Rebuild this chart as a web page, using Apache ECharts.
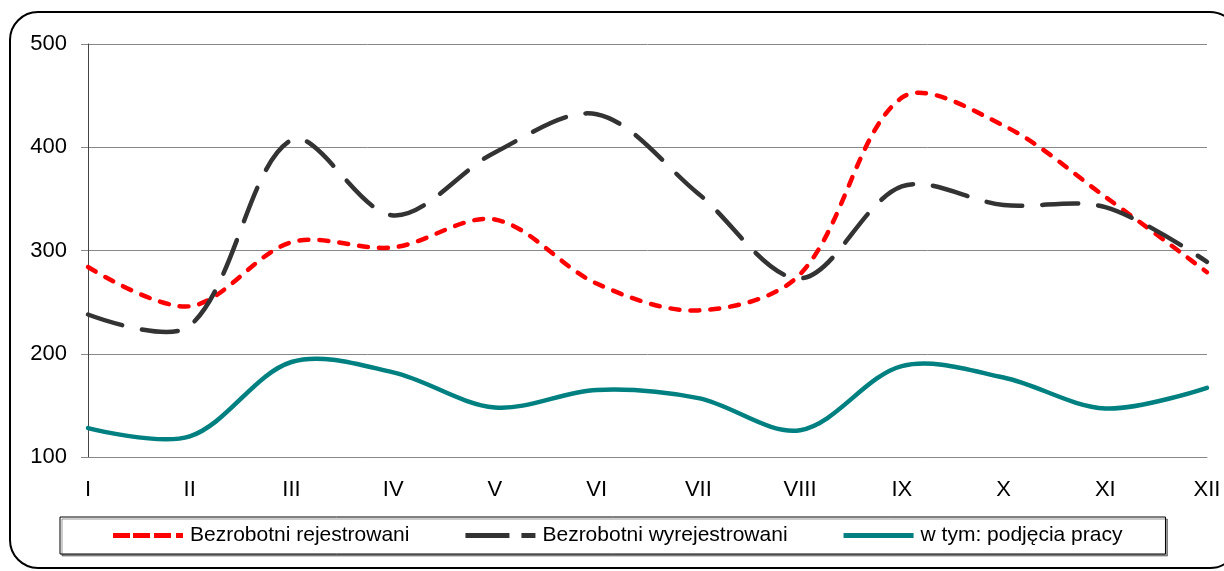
<!DOCTYPE html>
<html>
<head>
<meta charset="utf-8">
<script src="https://cdn.jsdelivr.net/npm/echarts@6/dist/echarts.min.js"></script>
<style>
  html, body { margin: 0; padding: 0; background: #fff; }
  #chart { width: 1224px; height: 571px; }
</style>
</head>
<body>
<div id="chart"></div>
<script>
// miesiące
var months = ['I', 'II', 'III', 'IV', 'V', 'VI', 'VII', 'VIII', 'IX', 'X', 'XI', 'XII'];
var rejestrowani = [284, 246, 308, 303, 330, 268, 242, 277, 448, 421, 352, 279];
var wyrejestrowani = [238, 227, 407, 334, 395, 432, 355, 273, 362, 344, 342, 289];
var podjecia = [128, 120, 192, 182, 148, 165, 157, 126, 188, 177, 147, 167];

var font = 'Liberation Sans, Arial, sans-serif';
var chart = echarts.init(document.getElementById('chart'));

// gładka linia jak w Excelu (bez obcinania punktów kontrolnych)
function curveSeries(name, values, color, dash) {
  return {
    name: name,
    type: 'custom',
    coordinateSystem: 'cartesian2d',
    itemStyle: { color: color },
    data: values.map(function (v, i) { return [i, v]; }),
    renderItem: function (params, api) {
      if (params.dataIndex !== 0) return;
      var pts = values.map(function (v, i) { return api.coord([i, v]); });
      return {
        type: 'polyline',
        shape: { points: pts, smooth: 0.33, smoothConstraint: false },
        style: {
          fill: null,
          stroke: color,
          lineWidth: 4.5,
          lineDash: dash,
          lineCap: 'round'
        }
      };
    }
  };
}

var option = {
  animation: false,
  textStyle: { fontFamily: font },
  graphic: [{
    type: 'rect',
    shape: { x: 10, y: 12, width: 1228, height: 556, r: 28 },
    style: { fill: 'none', stroke: '#000', lineWidth: 2 },
    z: -1
  }],
  grid: { left: 88, right: 17, top: 44, bottom: 114 },
  legend: {
    left: 60,
    top: 517,
    padding: [8, 43, 8, 53],
    itemGap: 56,
    itemWidth: 70,
    itemHeight: 5,
    borderColor: '#000',
    borderWidth: 1,
    backgroundColor: '#fff',
    shadowColor: 'rgba(0,0,0,0.4)',
    shadowOffsetX: 2,
    shadowOffsetY: 2,
    textStyle: { fontSize: 21, color: '#000', fontFamily: font, padding: [0, 0, 0, 2] },
    data: [
      { name: 'Bezrobotni rejestrowani', icon: 'path://M0,0h17v5h-17z M20,0h17v5h-17z M41,0h17v5h-17z M63,0h7v5h-7z' },
      { name: 'Bezrobotni wyrejestrowani', icon: 'path://M0,0h44v5h-44z M56,0h14v5h-14z' },
      { name: 'w tym: podjęcia pracy', icon: 'path://M0,0h70v5h-70z' }
    ]
  },
  xAxis: {
    type: 'category',
    data: months,
    boundaryGap: false,
    axisLine: { lineStyle: { color: '#888' } },
    axisTick: { show: false },
    axisLabel: { fontSize: 22, color: '#000', margin: 22, fontFamily: font }
  },
  yAxis: {
    type: 'value',
    min: 100,
    max: 500,
    interval: 100,
    axisLine: { show: true, lineStyle: { color: '#444' } },
    axisTick: { show: true, length: 7, lineStyle: { color: '#888' } },
    axisLabel: { fontSize: 22, color: '#000', margin: 21, fontFamily: font },
    splitLine: { lineStyle: { color: '#888', width: 1 } }
  },
  series: [
    curveSeries('Bezrobotni rejestrowani', rejestrowani, '#ff0000', [9, 11]),
    curveSeries('Bezrobotni wyrejestrowani', wyrejestrowani, '#333333', [36, 20]),
    curveSeries('w tym: podjęcia pracy', podjecia, '#008080', null)
  ]
};

chart.setOption(option);
</script>
</body>
</html>
